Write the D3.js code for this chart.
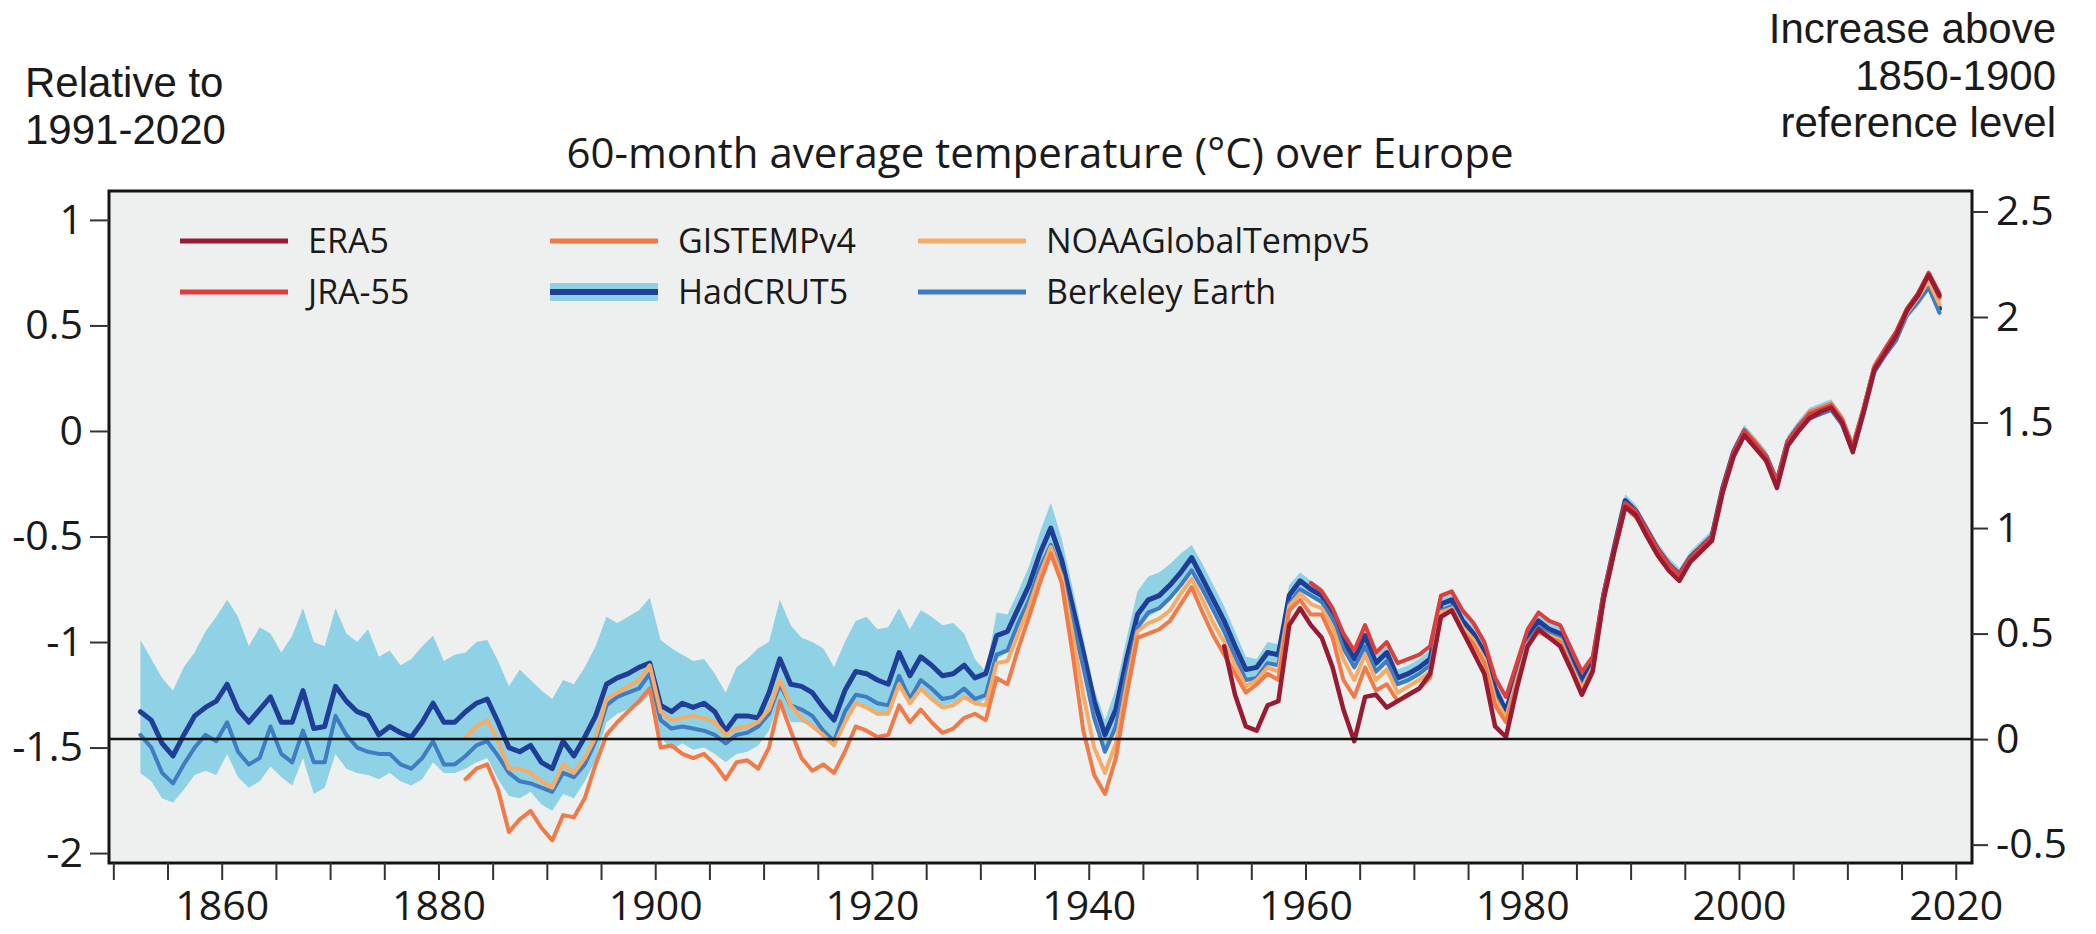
<!DOCTYPE html>
<html>
<head>
<meta charset="utf-8">
<script src="https://cdn.jsdelivr.net/npm/d3@7"></script>
<style>
  html, body { margin: 0; padding: 0; background: #ffffff; }
  svg { display: block; font-family: "Open Sans", "Noto Sans", sans-serif; }
</style>
</head>
<body>
<svg id="chart" width="2096" height="934"></svg>
<script>
// 60-month running mean temperature anomaly over Europe (°C, relative to 1991-2020)
// One value per year, at mid-year, starting from each series' first year.

const hadcrutStart = 1852.5;
const hadcrut = [
  -1.33, -1.37, -1.48, -1.54, -1.44, -1.35, -1.31, -1.28, -1.20, -1.32,
  -1.38, -1.32, -1.26, -1.38, -1.38, -1.23, -1.41, -1.40, -1.21, -1.28,
  -1.33, -1.35, -1.44, -1.40, -1.43, -1.45, -1.38, -1.29, -1.38, -1.38,
  -1.33, -1.29, -1.27, -1.38, -1.50, -1.52, -1.49, -1.57, -1.60, -1.47,
  -1.54, -1.45, -1.35, -1.20, -1.17, -1.15, -1.12, -1.10, -1.30, -1.33,
  -1.29, -1.31, -1.29, -1.33, -1.42, -1.35, -1.35, -1.36, -1.24, -1.08,
  -1.20, -1.21, -1.24, -1.31, -1.37, -1.23, -1.14, -1.15, -1.18, -1.20,
  -1.05, -1.16, -1.07, -1.11, -1.16, -1.15, -1.11, -1.17, -1.15, -0.97,
  -0.95, -0.84, -0.73, -0.58, -0.46, -0.61, -0.83, -1.05, -1.28, -1.44,
  -1.32, -1.08, -0.87, -0.80, -0.78, -0.73, -0.67, -0.60, -0.70, -0.80,
  -0.90, -1.02, -1.13, -1.12, -1.05, -1.06, -0.78, -0.71, -0.75, -0.78,
  -0.86, -0.99, -1.08, -0.97, -1.10, -1.05, -1.17, -1.15, -1.12, -1.08,
  -0.82, -0.80, -0.90, -0.96, -1.05, -1.22, -1.33, -1.15, -0.98, -0.90,
  -0.94, -0.96, -1.08, -1.18, -1.10, -0.78, -0.55, -0.33, -0.38, -0.47,
  -0.56, -0.63, -0.68, -0.60, -0.55, -0.50, -0.27, -0.10, 0.00, -0.06,
  -0.12, -0.24, -0.05, 0.02, 0.08, 0.10, 0.12, 0.05, -0.08, 0.10,
  0.30, 0.38, 0.45, 0.56, 0.62, 0.70, 0.58
];

// HadCRUT5 uncertainty range
const hadcrutUpper = [
  -0.99, -1.08, -1.17, -1.23, -1.12, -1.05, -0.95, -0.88, -0.80, -0.88,
  -1.02, -0.93, -0.96, -1.05, -0.97, -0.84, -1.00, -1.02, -0.84, -0.96,
  -1.00, -0.94, -1.07, -1.04, -1.11, -1.08, -1.02, -0.97, -1.09, -1.06,
  -1.05, -1.00, -0.99, -1.09, -1.21, -1.13, -1.18, -1.23, -1.27, -1.18,
  -1.20, -1.12, -1.02, -0.88, -0.91, -0.88, -0.85, -0.79, -0.99, -1.03,
  -1.06, -1.09, -1.08, -1.15, -1.24, -1.12, -1.08, -1.03, -1.00, -0.80,
  -0.92, -0.98, -1.00, -1.03, -1.12, -1.00, -0.90, -0.88, -0.94, -0.93,
  -0.84, -0.94, -0.85, -0.88, -0.92, -0.91, -0.96, -1.08, -1.14, -0.86,
  -0.87, -0.76, -0.64, -0.48, -0.34, -0.51, -0.74, -0.98, -1.22, -1.37,
  -1.22, -0.98, -0.76, -0.69, -0.67, -0.63, -0.58, -0.54, -0.63, -0.73,
  -0.83, -0.95, -1.07, -1.08, -1.00, -1.01, -0.73, -0.67, -0.71, -0.74,
  -0.82, -0.95, -1.04, -0.93, -1.06, -1.01, -1.13, -1.11, -1.08, -1.04,
  -0.78, -0.76, -0.86, -0.92, -1.01, -1.18, -1.29, -1.11, -0.94, -0.86,
  -0.90, -0.92, -1.04, -1.14, -1.06, -0.75, -0.52, -0.30, -0.35, -0.44,
  -0.53, -0.60, -0.65, -0.57, -0.52, -0.47, -0.24, -0.07, 0.03, -0.03,
  -0.09, -0.21, -0.02, 0.05, 0.11, 0.13, 0.15, 0.08, -0.05, 0.13,
  0.33, 0.41, 0.48, 0.59, 0.65, 0.73, 0.61
];
const hadcrutLower = [
  -1.62, -1.66, -1.74, -1.76, -1.70, -1.63, -1.61, -1.63, -1.53, -1.64,
  -1.69, -1.66, -1.59, -1.64, -1.68, -1.55, -1.72, -1.69, -1.53, -1.60,
  -1.62, -1.63, -1.65, -1.62, -1.66, -1.68, -1.65, -1.57, -1.62, -1.62,
  -1.60, -1.57, -1.55, -1.65, -1.73, -1.74, -1.71, -1.77, -1.80, -1.72,
  -1.74, -1.66, -1.56, -1.38, -1.34, -1.32, -1.30, -1.25, -1.45, -1.51,
  -1.48, -1.51, -1.50, -1.53, -1.57, -1.53, -1.52, -1.49, -1.42, -1.27,
  -1.38, -1.38, -1.40, -1.46, -1.50, -1.38, -1.30, -1.31, -1.33, -1.35,
  -1.20, -1.30, -1.22, -1.26, -1.30, -1.29, -1.25, -1.30, -1.27, -1.08,
  -1.05, -0.93, -0.82, -0.67, -0.56, -0.70, -0.92, -1.13, -1.36, -1.52,
  -1.40, -1.16, -0.95, -0.88, -0.85, -0.80, -0.74, -0.67, -0.76, -0.86,
  -0.96, -1.08, -1.18, -1.17, -1.10, -1.11, -0.83, -0.75, -0.79, -0.82,
  -0.90, -1.03, -1.12, -1.01, -1.14, -1.09, -1.21, -1.19, -1.16, -1.12,
  -0.86, -0.84, -0.94, -1.00, -1.09, -1.26, -1.37, -1.19, -1.02, -0.94,
  -0.98, -1.00, -1.12, -1.22, -1.14, -0.81, -0.58, -0.36, -0.41, -0.50,
  -0.59, -0.66, -0.71, -0.63, -0.58, -0.53, -0.30, -0.13, -0.03, -0.09,
  -0.15, -0.27, -0.08, -0.01, 0.05, 0.07, 0.09, 0.02, -0.11, 0.07,
  0.27, 0.35, 0.42, 0.53, 0.59, 0.67, 0.54
];

const berkeleyStart = 1852.5;
const berkeley = [
  -1.44, -1.50, -1.62, -1.67, -1.58, -1.50, -1.44, -1.47, -1.38, -1.52,
  -1.58, -1.55, -1.40, -1.53, -1.57, -1.42, -1.57, -1.57, -1.35, -1.44,
  -1.50, -1.52, -1.53, -1.53, -1.58, -1.60, -1.55, -1.47, -1.58, -1.58,
  -1.54, -1.49, -1.47, -1.54, -1.62, -1.66, -1.67, -1.69, -1.71, -1.62,
  -1.64, -1.58, -1.47, -1.30, -1.26, -1.24, -1.22, -1.15, -1.37, -1.41,
  -1.40, -1.41, -1.42, -1.44, -1.48, -1.44, -1.43, -1.40, -1.34, -1.20,
  -1.30, -1.32, -1.35, -1.42, -1.47, -1.33, -1.25, -1.26, -1.29, -1.30,
  -1.16, -1.27, -1.18, -1.22, -1.27, -1.26, -1.22, -1.27, -1.25, -1.06,
  -1.04, -0.91, -0.80, -0.65, -0.54, -0.68, -0.90, -1.12, -1.36, -1.52,
  -1.40, -1.15, -0.93, -0.86, -0.84, -0.79, -0.73, -0.66, -0.75, -0.85,
  -0.95, -1.07, -1.18, -1.17, -1.10, -1.11, -0.82, -0.75, -0.78, -0.81,
  -0.89, -1.03, -1.12, -1.02, -1.14, -1.09, -1.20, -1.18, -1.15, -1.11,
  -0.85, -0.83, -0.93, -0.99, -1.08, -1.26, -1.36, -1.17, -1.00, -0.93,
  -0.96, -0.98, -1.10, -1.21, -1.12, -0.80, -0.57, -0.36, -0.40, -0.49,
  -0.58, -0.65, -0.70, -0.62, -0.57, -0.52, -0.29, -0.12, -0.02, -0.08,
  -0.14, -0.26, -0.07, 0.00, 0.06, 0.08, 0.10, 0.03, -0.10, 0.08,
  0.28, 0.36, 0.43, 0.55, 0.61, 0.68, 0.56
];

const gistempStart = 1882.5;
const gistemp = [
  -1.65, -1.60, -1.58, -1.70, -1.90, -1.84, -1.80, -1.88, -1.94, -1.82,
  -1.83, -1.74, -1.58, -1.44, -1.38, -1.33, -1.28, -1.22, -1.50, -1.49,
  -1.53, -1.55, -1.53, -1.58, -1.65, -1.57, -1.56, -1.60, -1.50, -1.28,
  -1.42, -1.55, -1.61, -1.58, -1.62, -1.52, -1.40, -1.42, -1.45, -1.44,
  -1.30, -1.38, -1.32, -1.38, -1.43, -1.41, -1.36, -1.34, -1.37, -1.17,
  -1.20, -1.03, -0.88, -0.72, -0.58, -0.72, -1.05, -1.42, -1.63, -1.72,
  -1.55, -1.25, -0.98, -0.96, -0.94, -0.90, -0.82, -0.74, -0.86, -0.97,
  -1.06, -1.15, -1.24, -1.20, -1.15, -1.18, -0.85, -0.80, -0.87, -0.87,
  -0.98, -1.18, -1.26, -1.12, -1.23, -1.20, -1.28, -1.25, -1.22, -1.17,
  -0.88, -0.85, -0.95, -1.01, -1.10, -1.30, -1.38, -1.20, -1.02, -0.95,
  -0.98, -1.00, -1.12, -1.24, -1.13, -0.80, -0.57, -0.36, -0.41, -0.49,
  -0.58, -0.65, -0.70, -0.61, -0.56, -0.51, -0.28, -0.11, 0.00, -0.05,
  -0.12, -0.24, -0.05, 0.02, 0.09, 0.11, 0.13, 0.06, -0.07, 0.11,
  0.31, 0.39, 0.47, 0.58, 0.65, 0.74, 0.63
];

const noaaStart = 1882.5;
const noaa = [
  -1.45, -1.40, -1.37, -1.47, -1.60, -1.60, -1.62, -1.66, -1.69, -1.58,
  -1.62, -1.55, -1.45, -1.27, -1.24, -1.21, -1.18, -1.11, -1.33, -1.37,
  -1.36, -1.35, -1.36, -1.38, -1.44, -1.41, -1.40, -1.38, -1.32, -1.18,
  -1.30, -1.36, -1.40, -1.44, -1.49, -1.38, -1.29, -1.31, -1.34, -1.34,
  -1.20, -1.29, -1.22, -1.27, -1.31, -1.30, -1.26, -1.29, -1.30, -1.10,
  -1.09, -0.96, -0.83, -0.68, -0.55, -0.69, -0.96, -1.25, -1.50, -1.62,
  -1.48, -1.20, -0.95, -0.91, -0.89, -0.85, -0.77, -0.70, -0.80, -0.91,
  -1.00, -1.11, -1.21, -1.18, -1.12, -1.14, -0.83, -0.77, -0.82, -0.84,
  -0.93, -1.08, -1.18, -1.06, -1.18, -1.13, -1.24, -1.21, -1.18, -1.14,
  -0.86, -0.84, -0.93, -0.99, -1.08, -1.27, -1.36, -1.18, -1.01, -0.94,
  -0.97, -0.99, -1.11, -1.22, -1.12, -0.80, -0.57, -0.35, -0.40, -0.49,
  -0.58, -0.65, -0.70, -0.62, -0.57, -0.52, -0.29, -0.12, -0.01, -0.07,
  -0.13, -0.25, -0.06, 0.01, 0.07, 0.09, 0.11, 0.04, -0.09, 0.09,
  0.29, 0.37, 0.45, 0.56, 0.63, 0.71, 0.60
];

const jra55Start = 1960.5;
const jra55 = [
  -0.72, -0.76, -0.84, -0.96, -1.04, -0.92, -1.05, -1.00, -1.10, -1.08,
  -1.06, -1.02, -0.78, -0.76, -0.85, -0.91, -1.00, -1.17, -1.26, -1.10,
  -0.94, -0.86, -0.90, -0.92, -1.03, -1.14, -1.07, -0.77, -0.55, -0.34,
  -0.38, -0.47, -0.56, -0.63, -0.68, -0.60, -0.55, -0.50, -0.27, -0.10,
  0.00, -0.06, -0.12, -0.24, -0.05, 0.02, 0.08, 0.10, 0.12, 0.05,
  -0.08, 0.10, 0.30, 0.39, 0.47, 0.58, 0.65, 0.75, 0.65
];

const era5Start = 1952.5;
const era5 = [
  -1.02, -1.25, -1.40, -1.42, -1.30, -1.28, -0.92, -0.84, -0.92, -0.98,
  -1.12, -1.32, -1.47, -1.26, -1.25, -1.31, -1.28, -1.25, -1.22, -1.15,
  -0.88, -0.85, -0.95, -1.05, -1.15, -1.40, -1.45, -1.22, -1.02, -0.94,
  -0.98, -1.02, -1.13, -1.25, -1.14, -0.80, -0.57, -0.36, -0.40, -0.50,
  -0.59, -0.66, -0.71, -0.62, -0.57, -0.52, -0.29, -0.12, -0.02, -0.08,
  -0.14, -0.27, -0.07, 0.00, 0.06, 0.09, 0.11, 0.04, -0.10, 0.09,
  0.29, 0.37, 0.45, 0.57, 0.64, 0.74, 0.64
];

// Axis ticks
const yTicksLeft = [-2, -1.5, -1, -0.5, 0, 0.5, 1];
const yTicksRight = [-0.5, 0, 0.5, 1, 1.5, 2, 2.5];
const xTicksMinor = d3.range(1850, 2021, 5);
const xTickLabels = [1860, 1880, 1900, 1920, 1940, 1960, 1980, 2000, 2020];
// Offset between the two temperature baselines (1850-1900 level on the 1991-2020 scale)
const preindustrialOffset = 1.46;

const legendItems = [
  { name: "ERA5", color: "#971b33", col: 0, row: 0 },
  { name: "JRA-55", color: "#dd3d3d", col: 0, row: 1 },
  { name: "GISTEMPv4", color: "#f07a48", col: 1, row: 0 },
  { name: "HadCRUT5", color: "#1f3e98", col: 1, row: 1, band: "#8fd1e5" },
  { name: "NOAAGlobalTempv5", color: "#f6ab66", col: 2, row: 0 },
  { name: "Berkeley Earth", color: "#3f7cc2", col: 2, row: 1 }
];

const leftNote = ["Relative to", "1991-2020"];
const rightNote = ["Increase above", "1850-1900", "reference level"];
const title = "60-month average temperature (°C) over Europe";

// ---- layout ----
const frame = { left: 109, right: 1972, top: 191, bottom: 863 };
const fontFamily = "'Open Sans', 'Noto Sans', sans-serif";
const noteFamily = "'Liberation Sans', Arial, sans-serif";

const svg = d3.select("#chart");

const x = d3.scaleLinear().domain([1849.6, 2021.5]).range([frame.left, frame.right]);
const y = d3.scaleLinear().domain([-2.047, 1.137]).range([frame.bottom, frame.top]);
const yRight = d3.scaleLinear()
  .domain(y.domain().map(v => v + preindustrialOffset))
  .range([frame.bottom, frame.top]);

// plot background
svg.append("rect")
  .attr("x", frame.left).attr("y", frame.top)
  .attr("width", frame.right - frame.left).attr("height", frame.bottom - frame.top)
  .attr("fill", "#eeefef");

svg.append("clipPath").attr("id", "plotclip").append("rect")
  .attr("x", frame.left).attr("y", frame.top)
  .attr("width", frame.right - frame.left).attr("height", frame.bottom - frame.top);

const plotG = svg.append("g").attr("clip-path", "url(#plotclip)");

function toPoints(start, values) {
  return values.map((v, i) => ({ year: start + i, value: v }));
}

// uncertainty band
const bandData = hadcrutUpper.map((u, i) => ({ year: hadcrutStart + i, hi: u, lo: hadcrutLower[i] }));
plotG.append("path")
  .datum(bandData)
  .attr("fill", "#8fd1e5")
  .attr("d", d3.area().x(d => x(d.year)).y0(d => y(d.lo)).y1(d => y(d.hi)));

const line = d3.line().x(d => x(d.year)).y(d => y(d.value));

const series = [
  { data: toPoints(hadcrutStart, hadcrut), color: "#1f3e98", width: 5 },
  { data: toPoints(berkeleyStart, berkeley), color: "#3f7cc2", width: 4 },
  { data: toPoints(noaaStart, noaa), color: "#f6ab66", width: 4 },
  { data: toPoints(gistempStart, gistemp), color: "#f07a48", width: 4 },
  { data: toPoints(jra55Start, jra55), color: "#dd3d3d", width: 4 },
  { data: toPoints(era5Start, era5), color: "#971b33", width: 4.5 }
];

series.forEach(s => {
  plotG.append("path")
    .datum(s.data)
    .attr("fill", "none")
    .attr("stroke", s.color)
    .attr("stroke-width", s.width)
    .attr("stroke-linejoin", "round")
    .attr("stroke-linecap", "round")
    .attr("d", line);
});

// 1850-1900 reference level
plotG.append("line")
  .attr("x1", frame.left).attr("x2", frame.right)
  .attr("y1", yRight(0)).attr("y2", yRight(0))
  .attr("stroke", "#111").attr("stroke-width", 2.5);

// frame
svg.append("rect")
  .attr("x", frame.left).attr("y", frame.top)
  .attr("width", frame.right - frame.left).attr("height", frame.bottom - frame.top)
  .attr("fill", "none").attr("stroke", "#141414").attr("stroke-width", 3);

// ---- axes ----
const fmt = d => String(d);

const leftAxis = svg.append("g")
  .attr("transform", `translate(${frame.left},0)`)
  .call(d3.axisLeft(y).tickValues(yTicksLeft).tickFormat(fmt).tickSize(19).tickPadding(7));

const rightAxis = svg.append("g")
  .attr("transform", `translate(${frame.right},0)`)
  .call(d3.axisRight(yRight).tickValues(yTicksRight).tickFormat(fmt).tickSize(16).tickPadding(8));

const bottomAxis = svg.append("g")
  .attr("transform", `translate(0,${frame.bottom})`)
  .call(d3.axisBottom(x).tickValues(xTicksMinor)
    .tickFormat(d => xTickLabels.includes(d) ? String(d) : "")
    .tickSize(17).tickPadding(11));

[leftAxis, rightAxis, bottomAxis].forEach(g => {
  g.select(".domain").remove();
  g.selectAll(".tick line").attr("stroke", "#333").attr("stroke-width", 2);
  g.selectAll(".tick text")
    .attr("fill", "#1a1a1a")
    .style("font-family", fontFamily)
    .style("font-size", "41px");
});
// unlabeled minor ticks carry no text element
bottomAxis.selectAll(".tick text").filter(function () { return this.textContent === ""; }).remove();

// ---- titles ----
svg.append("text").attr("x", 1040).attr("y", 168).attr("text-anchor", "middle")
  .style("font-family", fontFamily).style("font-size", "42px").attr("fill", "#1a1a1a")
  .text(title);

const noteStyle = sel => sel
  .style("font-family", noteFamily)
  .style("font-size", "42px")
  .attr("fill", "#1a1a1a");

leftNote.forEach((t, i) => {
  svg.append("text").attr("x", 25).attr("y", 97 + i * 47).call(noteStyle).text(t);
});

rightNote.forEach((t, i) => {
  svg.append("text").attr("x", 2056).attr("y", 43 + i * 47)
    .attr("text-anchor", "end").call(noteStyle).text(t);
});

// ---- legend ----
const legendCols = [180, 550, 918];
const legendRows = [241, 292];
const swatchLen = 108;

const legend = svg.append("g");
legendItems.forEach(item => {
  const lx = legendCols[item.col], ly = legendRows[item.row];
  if (item.band) {
    legend.append("rect")
      .attr("x", lx).attr("y", ly - 9).attr("width", swatchLen).attr("height", 18)
      .attr("fill", item.band);
  }
  legend.append("line")
    .attr("x1", lx).attr("x2", lx + swatchLen)
    .attr("y1", ly).attr("y2", ly)
    .attr("stroke", item.color).attr("stroke-width", item.band ? 6 : 5);
  legend.append("text")
    .attr("x", lx + swatchLen + 20).attr("y", ly)
    .attr("dy", "0.36em")
    .style("font-family", fontFamily)
    .style("font-size", "34px")
    .attr("fill", "#1a1a1a")
    .text(item.name);
});
</script>
</body>
</html>
